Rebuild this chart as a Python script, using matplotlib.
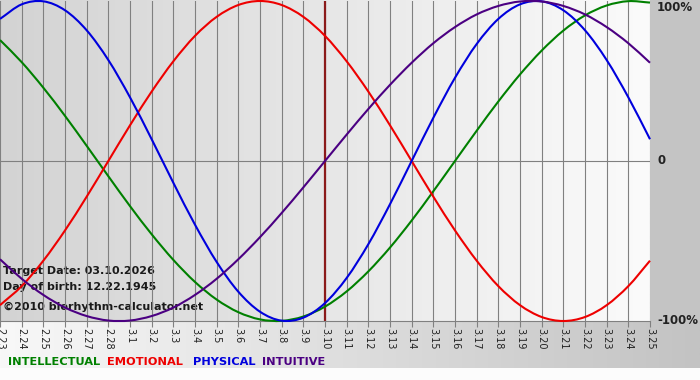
import matplotlib
matplotlib.use('Agg')
import matplotlib.pyplot as plt
import numpy as np
from matplotlib.colors import LinearSegmentedColormap
from matplotlib.patches import Rectangle, PathPatch
from matplotlib.path import Path

# ---- data (values as fraction of 100%) ----
dates = ['2.23', '2.24', '2.25', '2.26', '2.27', '2.28',
         '3.1', '3.2', '3.3', '3.4', '3.5', '3.6', '3.7', '3.8', '3.9', '3.10',
         '3.11', '3.12', '3.13', '3.14', '3.15', '3.16', '3.17', '3.18', '3.19',
         '3.20', '3.21', '3.22', '3.23', '3.24', '3.25']

physical = [0.888, 0.979, 0.998, 0.942, 0.817, 0.631, 0.398, 0.136, -0.136, -0.398,
            -0.631, -0.817, -0.942, -0.998, -0.979, -0.888, -0.731, -0.520, -0.270, 0.0,
            0.270, 0.520, 0.731, 0.888, 0.979, 0.998, 0.942, 0.817, 0.631, 0.398, 0.136]

emotional = [-0.901, -0.782, -0.623, -0.434, -0.223, 0.0, 0.223, 0.434, 0.623, 0.782,
             0.901, 0.975, 1.0, 0.975, 0.901, 0.782, 0.623, 0.434, 0.223, 0.0,
             -0.223, -0.434, -0.623, -0.782, -0.901, -0.975, -1.0, -0.975, -0.901, -0.782, -0.623]

intellectual = [0.756, 0.618, 0.458, 0.282, 0.095, -0.095, -0.282, -0.458, -0.618, -0.756,
                -0.866, -0.945, -0.990, -0.999, -0.972, -0.910, -0.815, -0.690, -0.541, -0.372,
                -0.189, 0.0, 0.189, 0.372, 0.541, 0.690, 0.815, 0.910, 0.972, 0.999, 0.990]

intuitive = [-0.614, -0.736, -0.837, -0.916, -0.969, -0.997, -0.997, -0.969, -0.916, -0.837,
             -0.736, -0.614, -0.476, -0.325, -0.165, 0.0, 0.165, 0.325, 0.476, 0.614,
             0.736, 0.837, 0.916, 0.969, 0.997, 0.997, 0.969, 0.916, 0.837, 0.736, 0.614]

target_date = '3.10'
y_labels = ['100%', '0', '-100%']
y_label_vals = [1, 0, -1]
series_names = ['INTELLECTUAL', 'EMOTIONAL', 'PHYSICAL', 'INTUITIVE']
series_colors = ['#008000', '#ee0000', '#0000dd', '#4b0082']
info_lines = ['Target Date: 03.10.2026', 'Day of birth: 12.22.1945',
              '\u00a92010 biorhythm-calculator.net']


def smooth_path(xs, ys):
    """Smooth curve through the given points (Catmull-Rom as cubic Bezier)."""
    p = np.column_stack([xs, ys]).astype(float)
    ext = np.vstack([2 * p[0] - p[1], p, 2 * p[-1] - p[-2]])
    verts = [p[0]]
    codes = [Path.MOVETO]
    for i in range(1, len(ext) - 2):
        p0, p1, p2, p3 = ext[i - 1], ext[i], ext[i + 1], ext[i + 2]
        verts += [p1 + (p2 - p0) / 6, p2 - (p3 - p1) / 6, p2]
        codes += [Path.CURVE4] * 3
    return Path(verts, codes)


W, H = 700, 380
fig = plt.figure(figsize=(W / 100, H / 100), dpi=100)
fig.patch.set_facecolor('#fcfcfc')

# background decoration axes in pixel coordinates
bg = fig.add_axes([0, 0, 1, 1])
bg.axis('off')
grad = np.linspace(0, 1, 256).reshape(1, -1)
cm_plot = LinearSegmentedColormap.from_list('p', ['#d3d3d3', '#fbfbfb'])
cm_band = LinearSegmentedColormap.from_list('b', ['#f8f8f8', '#c3c3c3'])
bg.imshow(grad, cmap=cm_plot, extent=(0, 650, 321, 0), aspect='auto', interpolation='bilinear')
bg.add_patch(Rectangle((650, 0), 50, 321, color='#c4c4c4', lw=0))
bg.imshow(grad, cmap=cm_band, extent=(0, 700, 368, 321), aspect='auto', interpolation='bilinear')
bg.set_xlim(0, W)
bg.set_ylim(H, 0)

# main chart axes
ax = fig.add_axes([0, 59 / H, 650 / W, 320 / H])
ax.set_facecolor('none')
x = np.arange(len(dates))
ax.set_xlim(0, len(dates) - 1)
ax.set_ylim(-1, 1)
ax.set_xticks(x)
ax.set_xticklabels(dates, rotation=-90, fontsize=7, color='#222222')
ax.tick_params(axis='x', length=4, color='#808080', width=0.8, pad=1)
ax.set_yticks([])
for sp in ['left', 'right', 'top']:
    ax.spines[sp].set_visible(False)
ax.spines['bottom'].set_color('#808080')
ax.spines['bottom'].set_linewidth(0.8)
for xi in x:
    ax.axvline(xi, color='#808080', lw=0.8, zorder=1)
ax.axhline(0, color='#808080', lw=0.8, zorder=1)

ax.axvline(dates.index(target_date), color='#8b1a1a', lw=1.6, zorder=2)

for vals, col in zip([intellectual, emotional, physical, intuitive], series_colors):
    ax.add_patch(PathPatch(smooth_path(x, vals), fill=False, edgecolor=col, lw=1.5,
                           zorder=3, clip_on=False, joinstyle='round', capstyle='butt'))

trans = ax.get_yaxis_transform()
for lab, v in zip(y_labels, y_label_vals):
    va = 'top' if v == 1 else 'center'
    ax.text(1.011, v, lab, transform=trans, ha='left', va=va, fontsize=8.5,
            fontweight='bold', color='#222222', clip_on=False)

for i, t in enumerate(info_lines):
    bg.text(3, [271, 287, 307][i], t, ha='left', va='center', fontsize=8,
            fontweight='bold', color='#1a1a1a', zorder=5)

for name, col, px in zip(series_names, series_colors, [8, 107, 193, 262]):
    bg.text(px, 362, name, ha='left', va='center', fontsize=8.2, fontweight='bold',
            color=col, zorder=5)

fig.savefig('out.png', dpi=100, facecolor=fig.get_facecolor())
